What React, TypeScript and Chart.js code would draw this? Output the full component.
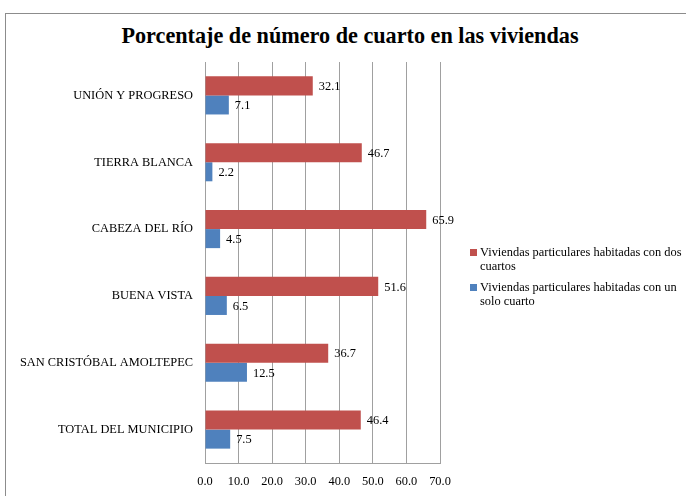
import React, { useEffect, useRef } from "react";
import { Chart, registerables } from "chart.js";

Chart.register(...registerables);

const chartTitle = "Porcentaje de número de cuarto en las viviendas";
const categories = [
  "UNIÓN Y PROGRESO",
  "TIERRA BLANCA",
  "CABEZA DEL RÍO",
  "BUENA VISTA",
  "SAN CRISTÓBAL AMOLTEPEC",
  "TOTAL DEL MUNICIPIO",
];
const dosCuartos = [32.1, 46.7, 65.9, 51.6, 36.7, 46.4];
const unCuarto = [7.1, 2.2, 4.5, 6.5, 12.5, 7.5];
const seriesNames = [
  "Viviendas particulares habitadas con dos cuartos",
  "Viviendas particulares habitadas con un solo cuarto",
];
const seriesColors = ["#C0504D", "#4F81BD"];
const xMin = 0;
const xMax = 70;
const xStep = 10;

const FONT = "'Liberation Serif', 'Times New Roman', serif";
const FS = 12.4;

const valueLabels = {
  id: "valueLabels",
  afterDatasetsDraw(chart: any) {
    const ctx = chart.ctx;
    ctx.save();
    ctx.font = `${FS}px ${FONT}`;
    ctx.fillStyle = "#000";
    ctx.textBaseline = "middle";
    ctx.textAlign = "left";
    chart.data.datasets.forEach((ds: any, i: number) => {
      const meta = chart.getDatasetMeta(i);
      meta.data.forEach((bar: any, j: number) => {
        ctx.fillText(Number(ds.data[j]).toFixed(1), bar.x + 6, bar.y + 1);
      });
    });
    ctx.restore();
  },
};

export default function App() {
  const canvasRef = useRef<HTMLCanvasElement | null>(null);

  useEffect(() => {
    if (!canvasRef.current) return;
    const chart = new Chart(canvasRef.current, {
      type: "bar",
      data: {
        labels: categories,
        datasets: [
          {
            label: seriesNames[0],
            data: dosCuartos,
            backgroundColor: seriesColors[0],
            categoryPercentage: 0.57,
            barPercentage: 1,
          },
          {
            label: seriesNames[1],
            data: unCuarto,
            backgroundColor: seriesColors[1],
            categoryPercentage: 0.57,
            barPercentage: 1,
          },
        ],
      },
      options: {
        indexAxis: "y",
        responsive: false,
        animation: false,
        layout: { padding: { left: 0, right: 246, top: 62, bottom: 0 } },
        plugins: {
          legend: { display: false },
          title: { display: false },
          tooltip: { enabled: false },
        },
        scales: {
          x: {
            min: xMin,
            max: xMax,
            ticks: {
              stepSize: xStep,
              padding: 11,
              color: "#000",
              font: { family: FONT, size: FS },
              callback: (v: any) => Number(v).toFixed(1),
            },
            grid: { color: "#a0a0a0", drawTicks: false },
            border: { display: true, color: "#a0a0a0" },
            afterFit: (s: any) => {
              s.height = 33;
            },
          },
          y: {
            ticks: {
              padding: 12,
              color: "#000",
              font: { family: FONT, size: FS },
            },
            grid: { display: false, drawTicks: false },
            border: { display: true, color: "#a0a0a0" },
            afterFit: (s: any) => {
              s.width = 205;
            },
          },
        },
      },
      plugins: [valueLabels],
    } as any);
    return () => chart.destroy();
  }, []);

  return (
    <div
      style={{
        position: "absolute",
        left: 0,
        top: 0,
        width: 686,
        height: 496,
        overflow: "hidden",
        background: "#fff",
        fontFamily: FONT,
      }}
    >
      <div
        style={{
          position: "absolute",
          left: 5,
          top: 13,
          width: 720,
          height: 520,
          border: "1px solid #8c8c8c",
          boxSizing: "border-box",
        }}
      />
      <div
        style={{
          position: "absolute",
          left: 0,
          top: 23,
          width: 700,
          textAlign: "center",
          fontWeight: "bold",
          fontSize: 22.2,
          lineHeight: "26px",
          color: "#000",
        }}
      >
        {chartTitle}
      </div>
      <canvas
        ref={canvasRef}
        width={686}
        height={496}
        style={{ position: "absolute", left: 0, top: 0, width: 686, height: 496 }}
      />
      <div
        style={{
          position: "absolute",
          left: 470,
          top: 246,
          display: "flex",
          flexDirection: "column",
          gap: 8,
          fontSize: FS,
          lineHeight: "13.5px",
          color: "#000",
        }}
      >
        {seriesNames.map((name, i) => (
          <div key={name} style={{ display: "flex", alignItems: "flex-start" }}>
            <span
              style={{
                display: "inline-block",
                width: 7,
                height: 7,
                marginTop: 3,
                marginRight: 3,
                background: seriesColors[i],
                flex: "0 0 auto",
              }}
            />
            <span style={{ width: 210 }}>{name}</span>
          </div>
        ))}
      </div>
    </div>
  );
}
